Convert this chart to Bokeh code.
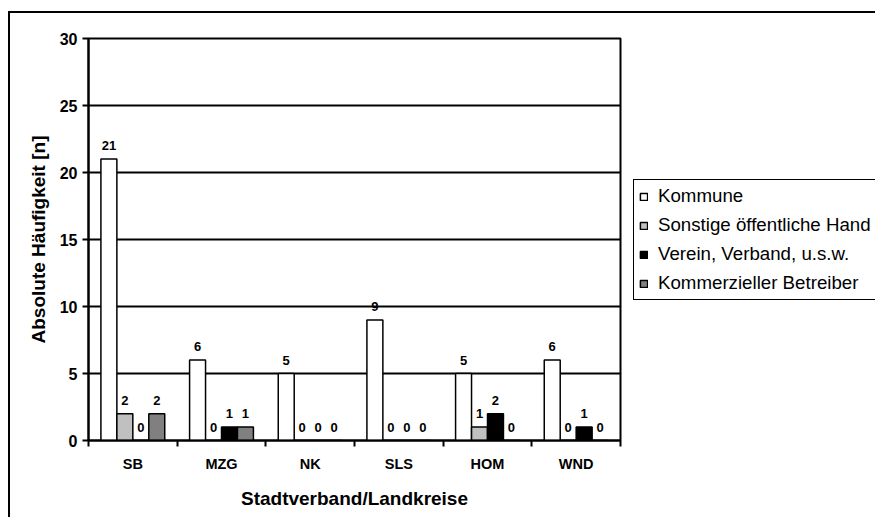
from bokeh.plotting import figure
from bokeh.models import (ColumnDataSource, FixedTicker, LabelSet, Legend, LegendItem,
                          Range1d, LinearAxis, Grid)
from bokeh.core.properties import value
from bokeh.embed import file_html
from bokeh.resources import INLINE
import numpy as np

# ---- data ----
categories = ["SB", "MZG", "NK", "SLS", "HOM", "WND"]
series_names = ["Kommune", "Sonstige öffentliche Hand", "Verein, Verband, u.s.w.",
                "Kommerzieller Betreiber"]
kommune = [21, 6, 5, 9, 5, 6]
sonstige = [2, 0, 0, 0, 1, 0]
verein = [0, 1, 0, 0, 2, 1]
kommerziell = [2, 1, 0, 0, 0, 0]
y_ticks = [0, 5, 10, 15, 20, 25, 30]
x_title = "Stadtverband/Landkreise"
y_title = "Absolute Häufigkeit [n]"

# ---- styles ----
colors = ["#FFFFFF", "#C0C0C0", "#000000", "#808080"]
offsets = [-0.27, -0.09, 0.09, 0.27]
bar_width = 0.18
FONT = "Liberation Sans"

p = figure(frame_width=532, frame_height=402, output_backend="svg", toolbar_location=None,
           x_range=Range1d(0, len(categories)), y_range=Range1d(y_ticks[0], y_ticks[-1]),
           min_border_left=78, min_border_top=25, min_border_right=255, min_border_bottom=77,
           x_axis_type=None, y_axis_type=None)
p.styles = {"border-left": "2px solid black", "border-top": "2px solid black",
            "margin-left": "8px", "margin-top": "11px"}
p.outline_line_color = "black"
p.outline_line_width = 2
p.outline_line_alpha = 1.0
p.background_fill_color = "white"
p.border_fill_color = "white"

# y axis
yaxis = LinearAxis(ticker=FixedTicker(ticks=y_ticks), axis_label=y_title)
yaxis.axis_line_width = 2
yaxis.axis_line_color = "black"
yaxis.major_tick_out = 6
yaxis.major_tick_in = 0
yaxis.major_tick_line_width = 2
yaxis.major_tick_line_color = "black"
yaxis.minor_tick_out = 0
yaxis.minor_tick_in = 0
yaxis.major_label_standoff = 5
yaxis.major_label_text_font = FONT
yaxis.major_label_text_font_style = "bold"
yaxis.major_label_text_font_size = "16px"
yaxis.major_label_text_color = "black"
yaxis.axis_label_text_font = FONT
yaxis.axis_label_text_font_style = "bold"
yaxis.axis_label_text_font_size = "19px"
yaxis.axis_label_text_color = "black"
yaxis.axis_label_standoff = 8
p.add_layout(yaxis, "left")

grid = Grid(dimension=1, ticker=yaxis.ticker, grid_line_color="black", grid_line_width=2,
            grid_line_alpha=1.0)
p.add_layout(grid)

# x axis
centers = [i + 0.5 for i in range(len(categories))]
bounds = [float(i) for i in range(len(categories) + 1)]
xaxis = LinearAxis(ticker=FixedTicker(ticks=centers, minor_ticks=bounds), axis_label=x_title)
xaxis.major_label_overrides = {c: n for c, n in zip(centers, categories)}
xaxis.axis_line_width = 2
xaxis.axis_line_color = "black"
xaxis.major_tick_out = 0
xaxis.major_tick_in = 0
xaxis.major_tick_line_color = None
xaxis.minor_tick_out = 6
xaxis.minor_tick_in = 0
xaxis.minor_tick_line_width = 2
xaxis.minor_tick_line_color = "black"
xaxis.major_label_standoff = 9
xaxis.major_label_text_font = FONT
xaxis.major_label_text_font_style = "bold"
xaxis.major_label_text_font_size = "14.5px"
xaxis.major_label_text_color = "black"
xaxis.axis_label_text_font = FONT
xaxis.axis_label_text_font_style = "bold"
xaxis.axis_label_text_font_size = "19px"
xaxis.axis_label_text_color = "black"
xaxis.axis_label_standoff = 13
p.add_layout(xaxis, "below")

# bars
all_series = [kommune, sonstige, verein, kommerziell]
items = []
for j, (name, vals) in enumerate(zip(series_names, all_series)):
    src = ColumnDataSource(dict(x=np.arange(len(categories)) + 0.5 + offsets[j],
                                top=vals, label=[str(v) for v in vals]))
    r = p.vbar(x="x", top="top", bottom=0, width=bar_width, source=src,
               fill_color=colors[j], line_color="black", line_width=1.5)
    items.append(LegendItem(label=name, renderers=[r]))
    labels = LabelSet(x="x", y="top", text="label", source=src, y_offset=9,
                      text_align="center", text_baseline="alphabetic",
                      text_font=value(FONT), text_font_style="bold", text_font_size="13px",
                      text_color="black")
    p.add_layout(labels)

legend = Legend(items=items, location=(13, 140), margin=0, padding=5, spacing=7,
                glyph_width=9, glyph_height=9, label_standoff=10, label_height=21,
                label_text_font=FONT, label_text_font_size="18.7px",
                label_text_color="black",
                border_line_color="black", border_line_width=1.5, border_line_alpha=1.0,
                background_fill_color="white", background_fill_alpha=1.0)
p.add_layout(legend, "right")

open("out.html", "w").write(file_html(p, INLINE))
